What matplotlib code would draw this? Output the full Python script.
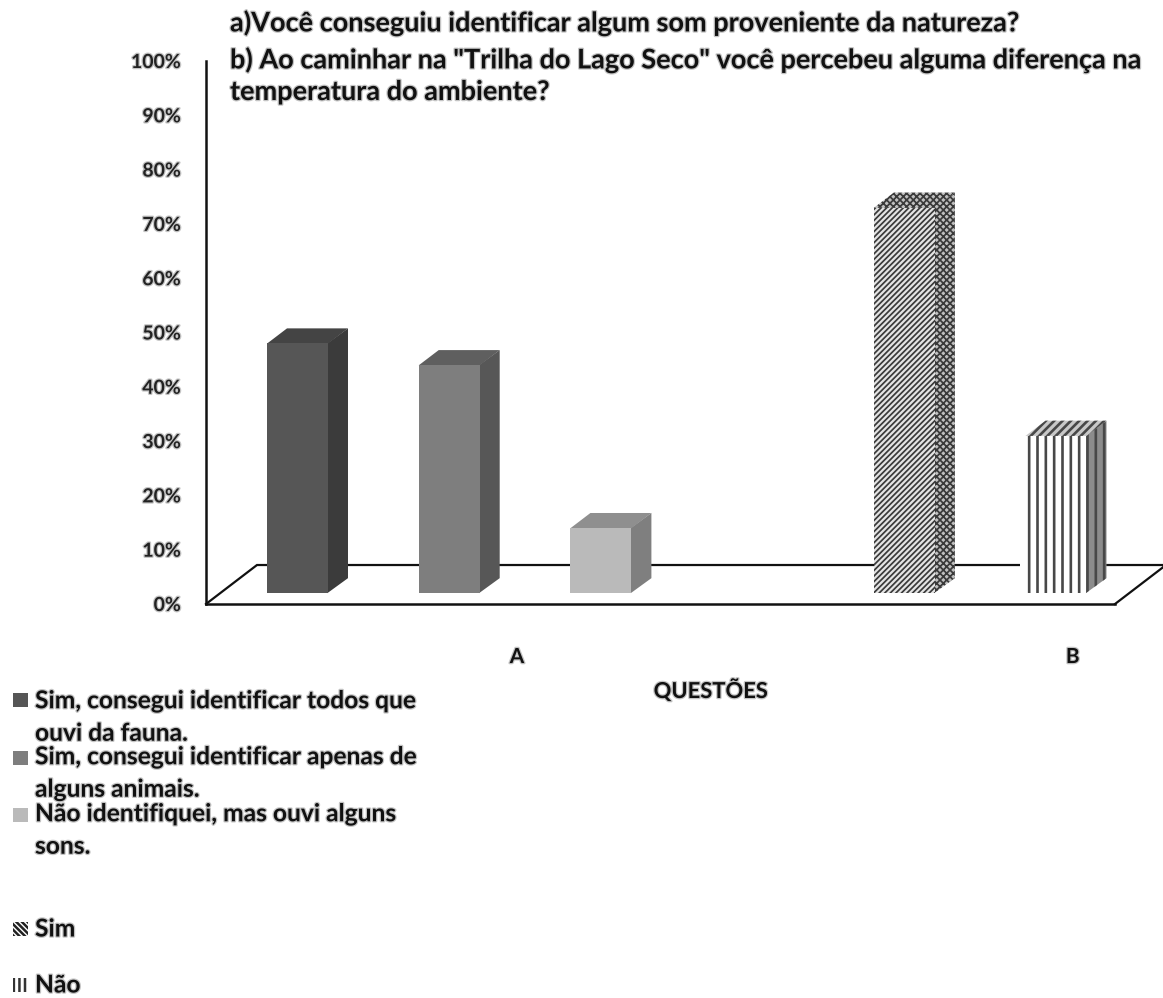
import matplotlib
matplotlib.use("Agg")
import matplotlib.pyplot as plt
import matplotlib.patheffects as pe
from matplotlib.patches import Polygon, Rectangle

# Survey answers, in percent
slots = [0, 1, 2, 4, 5]
values = [46, 42, 12, 71, 29]
group_ticks = [1.447, 5.11]
group_labels = ["A", "B"]
y_ticks = list(range(0, 101, 10))
y_labels = [f"{v}%" for v in y_ticks]
title_lines = [
    "a)Você conseguiu identificar algum som proveniente da natureza?",
    'b) Ao caminhar na "Trilha do Lago Seco" você percebeu alguma diferença na',
    "temperatura do ambiente?",
]
legend_labels = [
    "Sim, consegui identificar todos que\nouvi da fauna.",
    "Sim, consegui identificar apenas de\nalguns animais.",
    "Não identifiquei, mas ouvi alguns\nsons.",
    "Sim",
    "Não",
]

W, H = 1163, 998
plt.rcParams["font.family"] = ["Lato", "DejaVu Sans"]
plt.rcParams["font.weight"] = "bold"
fig = plt.figure(figsize=(W / 100, H / 100), dpi=100)
ax = fig.add_axes([206 / W, 1 - 604 / H, (1115 - 206) / W, (604 - 61) / H])
ax.set_xlim(-0.603, 5.389)
ax.set_ylim(0, 100)
ax.patch.set_alpha(0)

haze = [pe.withStroke(linewidth=1.8, foreground="#c4c4c4")]

# Box-shaped depth of each bar and of the floor, in data units
depth_x, depth_y = 0.132, 2.76
floor_x, floor_y = 0.336, 7.18
bar_w = 0.402
base = 2.0

for s in ("top", "right"):
    ax.spines[s].set_visible(False)
for s in ("left", "bottom"):
    ax.spines[s].set_linewidth(1.8)
    ax.spines[s].set_color("#111111")

x0, x1 = ax.get_xlim()
ax.plot([x0, x0 + floor_x, x1 + floor_x, x1], [0, floor_y, floor_y, 0],
        color="#111111", lw=1.6, clip_on=False, zorder=1, solid_joinstyle="miter")

styles = [
    dict(front="#565656", side="#3b3b3b", top="#444444"),
    dict(front="#7e7e7e", side="#575757", top="#5f5f5f"),
    dict(front="#bababa", side="#7f7f7f", top="#8f8f8f"),
    dict(front="#e4e4e4", side="#c0c0c0", top="#c0c0c0", hatch="//////", ink="#3a3a3a",
         side_hatch="xxxxx", top_hatch="xxxxx", lw=1.25),
    dict(front="white", side="#8c8c8c", top="#c8c8c8", hatch="||", ink="#484848",
         side_hatch="||", top_hatch="////", lw=1.9, clearance=0.035),
]

for xc, v, st in zip(slots, values, styles):
    plt.rcParams["hatch.linewidth"] = st.get("lw", 1.0)
    l, r = xc - bar_w / 2, xc + bar_w / 2
    t = base + v
    ink = st.get("ink", st["front"])
    if "clearance" in st:
        # the floor's back edge stops just short of this bar
        ax.bar(xc, v, bottom=base, width=bar_w + 2 * st["clearance"], color="white",
               linewidth=0, zorder=2)
    ax.bar(xc, v, bottom=base, width=bar_w, color=st["front"], edgecolor=ink,
           hatch=st.get("hatch"), linewidth=0, zorder=4)
    ax.add_patch(Polygon([(r - 0.004, base), (r + depth_x, base + depth_y),
                          (r + depth_x, t + depth_y), (r - 0.004, t)],
                         facecolor=st["side"], edgecolor=ink,
                         hatch=st.get("side_hatch"), linewidth=0, zorder=3))
    ax.add_patch(Polygon([(l, t - 0.05), (l + depth_x, t + depth_y),
                          (r + depth_x, t + depth_y), (r, t - 0.05)],
                         facecolor=st["top"], edgecolor=ink,
                         hatch=st.get("top_hatch"), linewidth=0, zorder=3))

ax.set_yticks(y_ticks, y_labels, fontsize=14, color="#222222")
ax.tick_params(axis="y", length=0, pad=18)
ax.set_xticks(group_ticks, group_labels, fontsize=15, color="#111111")
ax.tick_params(axis="x", length=0, pad=31)
for lab in ax.get_xticklabels() + ax.get_yticklabels():
    lab.set_path_effects(haze)

def px_text(x, y, s, size, **kw):
    return fig.text(x / W, 1 - y / H, s, fontsize=size, va="center",
                    path_effects=haze, color="#111111", **kw)

px_text(711, 690, "QUESTÕES", 15.8, ha="center")
for y, line in zip([23, 60, 92], title_lines):
    px_text(230, y, line, 19.5)

# Legend entries sit in a free-standing column beneath the plot
legend_y = [717, 773, 830, 929, 985]
for y, lab in zip(legend_y, legend_labels):
    px_text(35, y, lab, 17.7, linespacing=1.5)

plt.rcParams["hatch.linewidth"] = 1.8
swatches = [
    dict(y=693, facecolor="#565656"),
    dict(y=751, facecolor="#7e7e7e"),
    dict(y=808, facecolor="#bababa"),
    dict(y=922, facecolor="white", edgecolor="#222222", hatch="\\\\\\\\\\\\"),
    dict(y=978, facecolor="white", edgecolor="#333333", hatch="|||"),
]
for sw in swatches:
    y = sw.pop("y")
    fig.add_artist(Rectangle((13 / W, 1 - (y + 14) / H), 15 / W, 14 / H,
                             transform=fig.transFigure, linewidth=0, **sw))

fig.savefig("out.png", dpi=100)
